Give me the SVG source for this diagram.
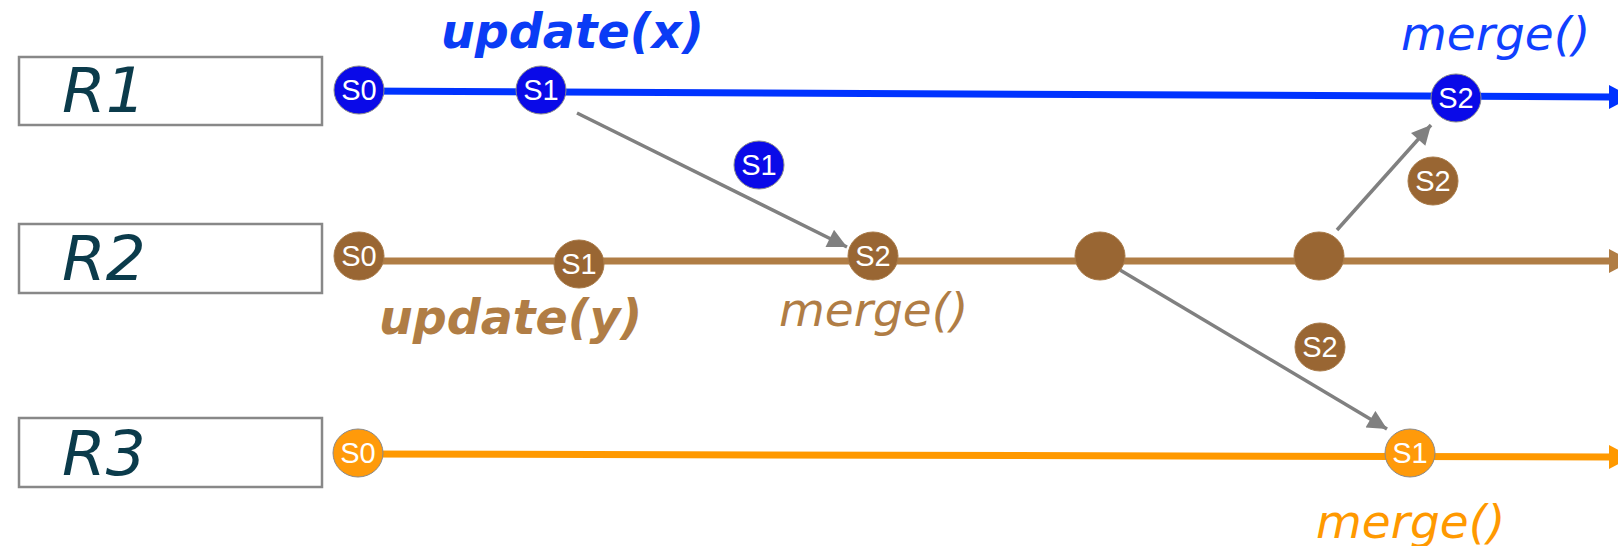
<svg xmlns="http://www.w3.org/2000/svg" width="1618" height="546" viewBox="0 0 1618 546">
<style>
.box{fill:#fff;stroke:#888;stroke-width:2.5}
.rl{font-family:"DejaVu Sans",sans-serif;font-style:italic;font-size:63px;fill:#0b3b4b}
.st{font-family:"Liberation Sans",Arial,sans-serif;font-size:29px;fill:#fff;text-anchor:middle}
.lbl{font-family:"DejaVu Sans",sans-serif;font-style:italic;font-size:47px}
.b{font-weight:bold;font-size:47.5px}
.cb{fill:#0a0ae8;stroke:#8a8a8a;stroke-width:1}
.cr{fill:#996633;stroke:#a87a48;stroke-width:1}
.co{fill:#ff9a0a;stroke:#8a8a8a;stroke-width:1}
.arr{stroke:#808080;stroke-width:3.5;fill:none}
</style>
<defs>
<marker id="ah" viewBox="0 0 10 10" refX="10" refY="5" markerWidth="6" markerHeight="5.5" markerUnits="strokeWidth" orient="auto">
<path d="M0,0 L10,5 L0,10 z" fill="#808080"/>
</marker>
</defs>
<g id="timelines">
<line x1="359" y1="91" x2="1612" y2="97" stroke="#0033ff" stroke-width="7"/>
<polygon points="1609,85 1632,97 1609,109" fill="#0033ff"/>
<line x1="359" y1="261" x2="1612" y2="261" stroke="#b07d45" stroke-width="7"/>
<polygon points="1609,249 1632,261 1609,273" fill="#b07d45"/>
<line x1="358" y1="454" x2="1612" y2="457" stroke="#ff9900" stroke-width="7"/>
<polygon points="1609,445 1632,457 1609,469" fill="#ff9900"/>
</g>
<g id="connectors">
<line class="arr" x1="577" y1="113" x2="847" y2="247" marker-end="url(#ah)"/>
<line class="arr" x1="1120" y1="270" x2="1387" y2="429" marker-end="url(#ah)"/>
<line class="arr" x1="1337" y1="230" x2="1431" y2="125" marker-end="url(#ah)"/>
</g>
<g id="R1"><rect class="box" x="19" y="57" width="303" height="68"/><text class="rl" x="62" y="112">R1</text></g>
<g id="R2"><rect class="box" x="19" y="224" width="303" height="69"/><text class="rl" x="62" y="280">R2</text></g>
<g id="R3"><rect class="box" x="19" y="418" width="303" height="69"/><text class="rl" x="62" y="475">R3</text></g>
<g id="R1-S0"><ellipse class="cb" cx="359" cy="90" rx="25" ry="24"/><text class="st" x="359" y="100">S0</text></g>
<g id="R1-S1"><ellipse class="cb" cx="541" cy="90" rx="25" ry="24"/><text class="st" x="541" y="100">S1</text></g>
<g id="R1-S2"><ellipse class="cb" cx="1456" cy="98" rx="25" ry="24"/><text class="st" x="1456" y="108">S2</text></g>
<g id="msg-S1"><ellipse class="cb" cx="759" cy="165" rx="25" ry="24"/><text class="st" x="759" y="175">S1</text></g>
<g id="R2-S0"><ellipse class="cr" cx="359" cy="256" rx="25" ry="24"/><text class="st" x="359" y="266">S0</text></g>
<g id="R2-S1"><ellipse class="cr" cx="579" cy="264" rx="25" ry="24"/><text class="st" x="579" y="274">S1</text></g>
<g id="R2-S2"><ellipse class="cr" cx="873" cy="256" rx="25" ry="24"/><text class="st" x="873" y="266">S2</text></g>
<g id="R2-n1"><ellipse class="cr" cx="1100" cy="256" rx="25" ry="24"/></g>
<g id="R2-n2"><ellipse class="cr" cx="1319" cy="256" rx="25" ry="24"/></g>
<g id="msg-S2a"><ellipse class="cr" cx="1433" cy="181" rx="25" ry="24"/><text class="st" x="1433" y="191">S2</text></g>
<g id="msg-S2b"><ellipse class="cr" cx="1320" cy="347" rx="25" ry="24"/><text class="st" x="1320" y="357">S2</text></g>
<g id="R3-S0"><ellipse class="co" cx="358" cy="453" rx="25" ry="24"/><text class="st" x="358" y="463">S0</text></g>
<g id="R3-S1"><ellipse class="co" cx="1410" cy="453" rx="25" ry="24"/><text class="st" x="1410" y="463">S1</text></g>
<g id="labels">
<text class="lbl b" x="441" y="48" fill="#0a3cf5">update(x)</text>
<text class="lbl" x="1401" y="50" fill="#1040ff">merge()</text>
<text class="lbl b" x="379" y="334" fill="#b07d45">update(y)</text>
<text class="lbl" x="779" y="326" fill="#b07d45">merge()</text>
<text class="lbl" x="1316" y="538" fill="#ff9900">merge()</text>
</g>
</svg>
